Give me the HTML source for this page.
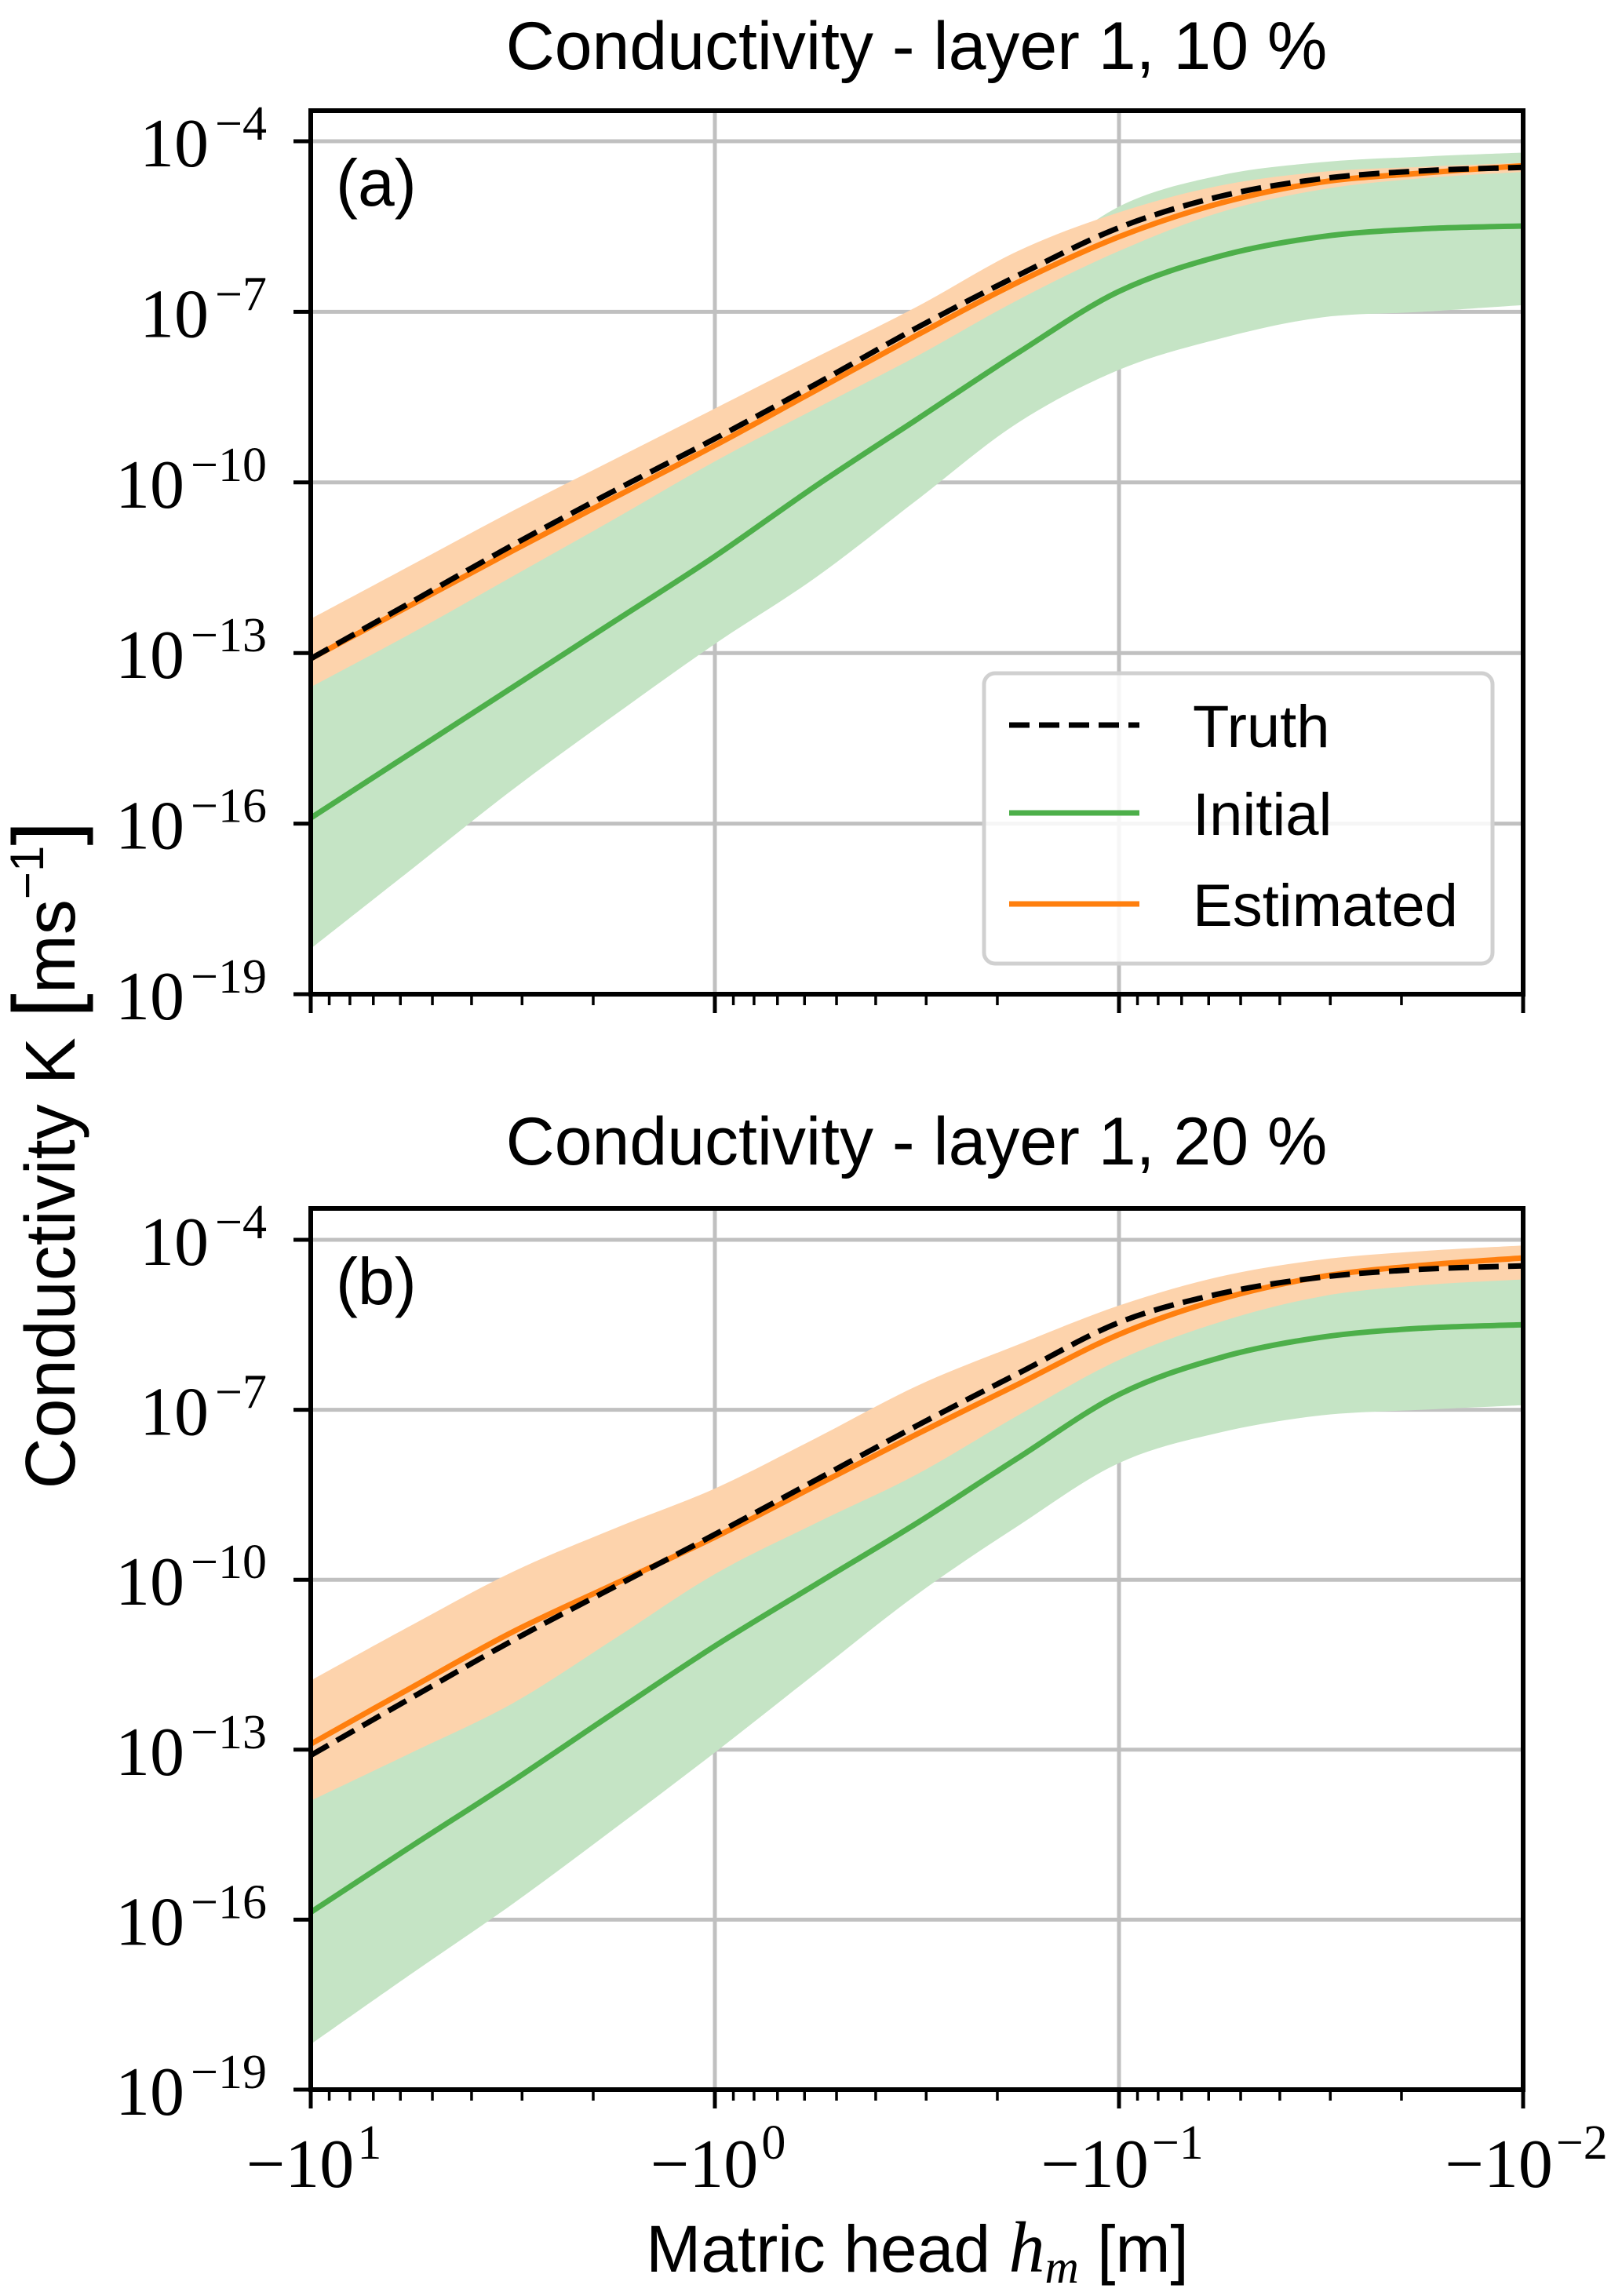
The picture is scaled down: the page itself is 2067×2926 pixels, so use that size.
<!DOCTYPE html>
<html><head><meta charset="utf-8"><style>
html,body{margin:0;padding:0;background:#fff;}
svg{display:block;}
</style></head><body>
<svg id="fig" xmlns="http://www.w3.org/2000/svg" width="2067" height="2926" viewBox="0 0 2067 2926">
<rect width="2067" height="2926" fill="#fff"/>
<g id="root"></g>
</svg>
<script>
const uVals = [1,0.75,0.5,0.25,0,-0.25,-0.5,-0.75,-1,-1.25,-1.5,-1.75,-2];
const truthA = [-13.1,-12.1,-11.1,-10.15,-9.23,-8.27,-7.28,-6.36,-5.52,-4.97,-4.66,-4.52,-4.46];
const estA = [-13.1,-12.15,-11.2,-10.27,-9.35,-8.38,-7.41,-6.48,-5.68,-5.09,-4.72,-4.56,-4.43];
const estUpA = [-12.4,-11.45,-10.5,-9.6,-8.7,-7.8,-6.91,-5.93,-5.25,-4.78,-4.54,-4.45,-4.38];
const estLoA = [-13.6,-12.65,-11.65,-10.65,-9.63,-8.7,-7.78,-6.79,-5.93,-5.25,-4.85,-4.65,-4.54];
const initA = [-15.9,-14.75,-13.6,-12.45,-11.3,-10.06,-8.89,-7.72,-6.64,-6.02,-5.68,-5.54,-5.49];
const initUpA = [-13.5,-12.5,-11.5,-10.45,-9.4,-8.45,-7.5,-6.4,-5.15,-4.6,-4.37,-4.27,-4.2];
const initLoA = [-18.2,-16.8,-15.4,-14.1,-12.84,-11.67,-10.31,-8.95,-8.02,-7.47,-7.1,-7.0,-6.88];
const truthB = [-13.1,-12.08,-11.07,-10.13,-9.2,-8.24,-7.28,-6.36,-5.46,-4.95,-4.66,-4.52,-4.46];
const estB = [-12.9,-11.9,-10.92,-10.08,-9.25,-8.34,-7.43,-6.55,-5.67,-5.05,-4.65,-4.45,-4.32];
const estUpB = [-11.78,-10.8,-9.86,-9.1,-8.39,-7.5,-6.58,-5.85,-5.16,-4.65,-4.35,-4.2,-4.1];
const estLoB = [-13.9,-13.05,-12.18,-11.05,-9.9,-9.0,-8.14,-7.1,-6.12,-5.45,-5.0,-4.8,-4.7];
const initB = [-15.87,-14.7,-13.55,-12.35,-11.17,-10.08,-9.0,-7.85,-6.73,-6.08,-5.72,-5.56,-5.5];
const initUpB = [-13.7,-12.8,-11.9,-10.8,-9.65,-8.75,-7.9,-6.9,-5.97,-4.9,-4.45,-4.3,-4.2];
const initLoB = [-18.2,-16.95,-15.72,-14.4,-13.05,-11.65,-10.26,-9.05,-7.94,-7.4,-7.1,-7.0,-6.92];
const yTickExps = [-4,-7,-10,-13,-16,-19];
const xTickExps = [1,0,-1,-2];
const titles = ["Conductivity - layer 1, 10 %","Conductivity - layer 1, 20 %"];
const panelLetters = ["(a)","(b)"];

const NS="http://www.w3.org/2000/svg";
const root=document.getElementById('root');
function mk(tag,attrs,parent){const e=document.createElementNS(NS,tag);for(const k in attrs)e.setAttribute(k,attrs[k]);(parent||root).appendChild(e);return e;}

const X0=396,X1=1941,U0=1,U1=-2;
function xs(u){return X0+(u-U0)/(U1-U0)*(X1-X0);}

function smooth(pts,start){
  let d=(start?'M':'L')+pts[0][0].toFixed(1)+','+pts[0][1].toFixed(1);
  for(let i=0;i<pts.length-1;i++){
    const p0=pts[Math.max(i-1,0)],p1=pts[i],p2=pts[i+1],p3=pts[Math.min(i+2,pts.length-1)];
    const c1=[p1[0]+(p2[0]-p0[0])/6,p1[1]+(p2[1]-p0[1])/6];
    const c2=[p2[0]-(p3[0]-p1[0])/6,p2[1]-(p3[1]-p1[1])/6];
    d+=' C'+c1[0].toFixed(1)+','+c1[1].toFixed(1)+' '+c2[0].toFixed(1)+','+c2[1].toFixed(1)+' '+p2[0].toFixed(1)+','+p2[1].toFixed(1);
  }
  return d;
}

const panels=[
 {top:141,bot:1267,yAt4:180,truth:truthA,est:estA,eu:estUpA,el:estLoA,ini:initA,iu:initUpA,il:initLoA,legend:true,titleY:88},
 {top:1540,bot:2663,yAt4:1580,truth:truthB,est:estB,eu:estUpB,el:estLoB,ini:initB,iu:initUpB,il:initLoB,legend:false,titleY:1484}
];

panels.forEach((p,pi)=>{
  const dec=(p.bot-p.yAt4)/15;
  const ys=v=>p.yAt4+(-4-v)*dec;
  const g=mk('g',{});
  
  
  const t=mk('text',{x:1168,y:p.titleY,'font-family':'Liberation Sans, sans-serif','font-size':86,'text-anchor':'middle'},g);
  t.textContent=titles[pi];
  
  
  yTickExps.forEach(e=>{const l=mk('line',{x1:X0,x2:X1,y1:ys(e),y2:ys(e),stroke:'#c0c0c0','stroke-width':5},g);
    });
  xTickExps.forEach(e=>{const l=mk('line',{x1:xs(e),x2:xs(e),y1:p.top,y2:p.bot,stroke:'#c0c0c0','stroke-width':5},g);
    });
  const pts=arr=>uVals.map((u,i)=>[xs(u),ys(arr[i])]);
  const line=arr=>smooth(pts(arr),true);
  const band=(up,lo)=>smooth(pts(up),true)+' '+smooth(pts(lo).reverse(),false)+' Z';
  const clip=mk('clipPath',{id:'clip'+pi},g);mk('rect',{x:X0,y:p.top,width:X1-X0,height:p.bot-p.top},clip);
  const cg=mk('g',{'clip-path':'url(#clip'+pi+')'},g);
  let e=mk('path',{d:band(p.iu,p.il),fill:'#c5e4c5',stroke:'none'},cg);
  
  e=mk('path',{d:band(p.eu,p.el),fill:'#fdd3ac',stroke:'none'},cg);
  
  e=mk('path',{d:line(p.ini),fill:'none',stroke:'#4daf4a','stroke-width':7},cg);
  
  e=mk('path',{d:line(p.est),fill:'none',stroke:'#ff7f0e','stroke-width':7},cg);
  
  e=mk('path',{d:line(p.truth),fill:'none',stroke:'#000','stroke-width':7,'stroke-dasharray':'26,12'},cg);
  
  e=mk('rect',{x:X0,y:p.top,width:X1-X0,height:p.bot-p.top,fill:'none',stroke:'#000','stroke-width':6},g);
  
  yTickExps.forEach(ex=>{const y=ys(ex);mk('line',{x1:X0-22,x2:X0,y1:y,y2:y,stroke:'#000','stroke-width':5},g);
    const tx=mk('text',{x:340,y:y+32,'font-family':'Liberation Serif, serif','font-size':88,'text-anchor':'end'},g);
    tx.innerHTML='10<tspan font-size="62" dx="8" dy="-34">\u2212'+(-ex)+'</tspan>';
    });
  xTickExps.forEach(ex=>{mk('line',{x1:xs(ex),x2:xs(ex),y1:p.bot,y2:p.bot+24,stroke:'#000','stroke-width':5},g);});
  for(let k=1;k>-2;k--){for(let m=2;m<=9;m++){const u=Math.log10(m)+k-1;const x=xs(u);
    mk('line',{x1:x,x2:x,y1:p.bot,y2:p.bot+14,stroke:'#000','stroke-width':3.5},g);}}
  if(pi===1){xTickExps.forEach(ex=>{const x=xs(ex);
    const tx=mk('text',{x:x+4,y:p.bot+124,'font-family':'Liberation Serif, serif','font-size':88,'text-anchor':'middle'},g);
    tx.innerHTML='\u221210<tspan font-size="62" dx="4" dy="-36">'+(ex<0?'\u2212'+(-ex):String(ex))+'</tspan>';
    });}
  const lt=mk('text',{x:428,y:ys(-4)+82,'font-family':'Liberation Sans, sans-serif','font-size':84},g);
  lt.textContent=panelLetters[pi];
  
  if(p.legend){
    const lg=mk('g',{},g);
    mk('rect',{x:1254,y:858,width:648,height:370,rx:14,fill:'#fff','fill-opacity':0.85,stroke:'#d0d0d0','stroke-width':5},lg);
    const ents=[['Truth','#000','26,12',924],['Initial','#4daf4a','',1036],['Estimated','#ff7f0e','',1152]];
    ents.forEach(en=>{const eg=mk('g',{},lg);
      const a={x1:1286,x2:1452,y1:en[3],y2:en[3],stroke:en[1],'stroke-width':7};if(en[2])a['stroke-dasharray']=en[2];mk('line',a,eg);
      const tt=mk('text',{x:1520,y:en[3]+28,'font-family':'Liberation Sans, sans-serif','font-size':76},eg);tt.textContent=en[0];});
  }
});
let yl=mk('text',{x:0,y:0,transform:'translate(95,1472) rotate(-90)','font-family':'Liberation Sans, sans-serif','font-size':90,'text-anchor':'middle'});
yl.innerHTML='Conductivity K <tspan font-size="112">[</tspan>ms<tspan font-size="60" dy="-40">\u22121</tspan><tspan font-size="112" dy="40">]</tspan>';

let xl=mk('text',{x:1169,y:2895,'font-family':'Liberation Sans, sans-serif','font-size':84,'text-anchor':'middle'});
xl.innerHTML='Matric head <tspan font-style="italic" font-family="Liberation Serif, serif" font-size="92">h</tspan><tspan font-style="italic" font-family="Liberation Serif, serif" font-size="60" dy="14">m</tspan><tspan dy="-14"> [m]</tspan>';

</script>
</body></html>
